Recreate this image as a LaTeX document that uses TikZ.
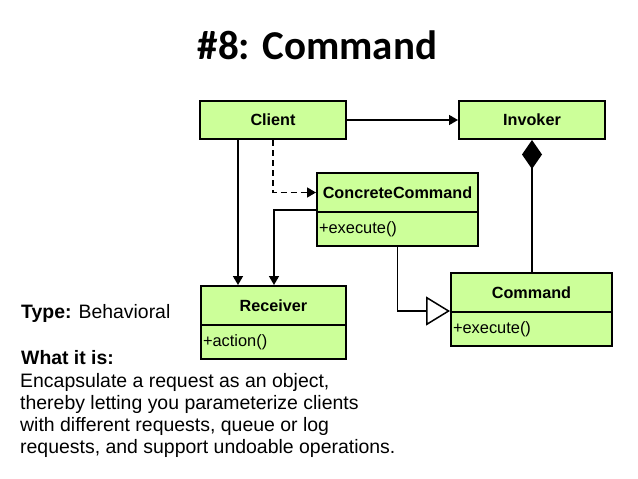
\documentclass[tikz,border=0pt]{standalone}
\usepackage{fontspec}
\setmainfont{Liberation Sans}
\newfontfamily\titlefont{Carlito}
\usetikzlibrary{arrows.meta,calc}
\definecolor{boxgreen}{RGB}{204,255,153}
\begin{document}
\begin{tikzpicture}[x=1pt,y=-1pt,
  cls/.style={draw=black, line width=2pt, fill=boxgreen, inner sep=0pt,
    font=\fontsize{16.2}{18}\selectfont\bfseries},
  meth/.style={draw=black, line width=2pt, fill=boxgreen, inner xsep=2pt, inner ysep=0pt,
    align=left, font=\fontsize{16.4}{18}\selectfont},
  conn/.style={line width=1.5pt},
  tip/.style={-{Triangle[length=9pt,width=10pt]}},
  body/.style={anchor=base west, inner sep=0pt, font=\fontsize{19.45}{22}\selectfont},
  head/.style={anchor=base west, inner sep=0pt, font=\fontsize{19.4}{22}\selectfont}]
\fill[white] (0,0) rectangle (638,479);
\useasboundingbox (0,0) rectangle (638,479);

\node[anchor=base, inner sep=0pt, font=\titlefont\bfseries\fontsize{41}{45}\selectfont] (title) at (317.5,59) {\#8: Command};

\node[cls, minimum width=146pt, minimum height=38pt] (client) at (273,120) {Client};
\node[cls, minimum width=146pt, minimum height=38pt] (invoker) at (532,120) {Invoker};
\node[cls, minimum width=161pt, minimum height=39pt] (ccn) at (397.5,192.5) {ConcreteCommand};
\node[meth, text width=157pt, minimum height=34pt] (ccm) at (397.5,229) {+execute()};
\node[cls, minimum width=145pt, minimum height=39pt] (rcvn) at (273.5,305.5) {Receiver};
\node[meth, text width=141pt, minimum height=34pt] (rcvm) at (273.5,342) {+action()};
\node[cls, minimum width=161pt, minimum height=39pt] (cmdn) at (531.5,292.5) {Command};
\node[meth, text width=157pt, minimum height=34pt] (cmdm) at (531.5,329) {+execute()};

\draw[conn, tip] (client) -- (invoker);
\draw[conn, {Diamond[length=29pt,width=20pt]}-] (invoker.south) -- (invoker.south |- cmdn.north);
\draw[conn, dash pattern=on 6pt off 4pt, tip] (client.south) |- (ccn.west);
\coordinate (cl) at (238,0);
\coordinate (cr) at (274,0);
\draw[conn, tip] (cl |- client.south) -- (cl |- rcvn.north);
\draw[conn, tip] ($(ccn.south west)+(0,-3)$) -| (cr |- rcvn.north);
\draw[conn, -{Triangle[length=24pt,width=29pt,fill=white]}] (ccm.south) |- ($(cmdn.south west)+(0,-2)$);

\node[head] (type) at (21,318) {\textbf{Type:} Behavioral};
\node[head] (what) at (21,364) {\textbf{What it is:}};
\node[body] (l1) at (20,387) {Encapsulate a request as an object,};
\node[body] (l2) at (20,409) {thereby letting you parameterize clients};
\node[body] (l3) at (20,431) {with different requests, queue or log};
\node[body] (l4) at (20,453) {requests, and support undoable operations.};
\end{tikzpicture}
\end{document}
